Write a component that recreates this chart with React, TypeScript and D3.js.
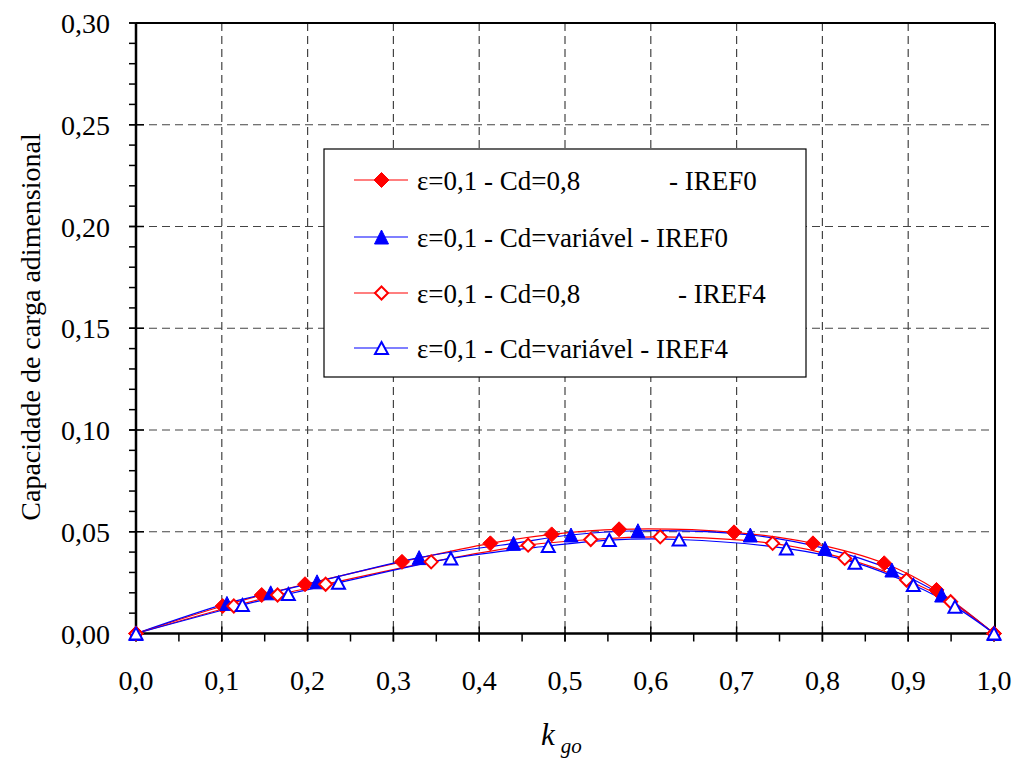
import React, { useEffect, useRef } from "react";
import * as d3 from "d3";

const xTicks = [0, 0.1, 0.2, 0.3, 0.4, 0.5, 0.6, 0.7, 0.8, 0.9, 1.0];
const yTicks = [0, 0.05, 0.1, 0.15, 0.2, 0.25, 0.3];

const kA = [0, 0.101, 0.1465, 0.197, 0.31, 0.413, 0.4845, 0.563, 0.697, 0.789, 0.872, 0.933, 1.0];
const vA = [0, 0.0135, 0.0189, 0.0242, 0.0352, 0.0443, 0.0487, 0.0512, 0.0497, 0.0443, 0.0345, 0.0214, 0];

const kB = [0, 0.106, 0.157, 0.211, 0.33, 0.44, 0.507, 0.585, 0.716, 0.803, 0.881, 0.939, 1.0];
const vB = [0, 0.0148, 0.02, 0.0254, 0.0373, 0.0443, 0.0484, 0.0505, 0.0484, 0.0418, 0.0312, 0.0189, 0];

const kC = [0, 0.114, 0.165, 0.221, 0.344, 0.457, 0.53, 0.611, 0.742, 0.826, 0.898, 0.9495, 1.0];
const vC = [0, 0.0135, 0.0189, 0.0242, 0.0352, 0.0434, 0.0462, 0.0475, 0.0443, 0.0369, 0.0263, 0.0156, 0];

const kD = [0, 0.124, 0.1775, 0.236, 0.367, 0.4805, 0.5516, 0.633, 0.758, 0.838, 0.906, 0.9545, 1.0];
const vD = [0, 0.014, 0.0194, 0.0249, 0.0369, 0.043, 0.0459, 0.0462, 0.0418, 0.0348, 0.0238, 0.0132, 0];

const seriesNames = [
  ["ε=0,1 - Cd=0,8", "- IREF0"],
  ["ε=0,1 - Cd=variável - IREF0", ""],
  ["ε=0,1 - Cd=0,8", "- IREF4"],
  ["ε=0,1 - Cd=variável - IREF4", ""],
];

const FONT = "serif";

type Mk = "diamond" | "triangle";
const series = [
  { k: kA, v: vA, color: "#ff0000", marker: "diamond" as Mk, filled: true },
  { k: kB, v: vB, color: "#0000ff", marker: "triangle" as Mk, filled: true },
  { k: kC, v: vC, color: "#ff0000", marker: "diamond" as Mk, filled: false },
  { k: kD, v: vD, color: "#0000ff", marker: "triangle" as Mk, filled: false },
];

function Marker({ x, y, type, color, filled }: { x: number; y: number; type: Mk; color: string; filled: boolean }) {
  if (type === "diamond") {
    const r = filled ? 7.5 : 6.5;
    const d = `M${x},${y - r}L${x + r},${y}L${x},${y + r}L${x - r},${y}Z`;
    return <path d={d} fill={filled ? color : "#fff"} stroke={color} strokeWidth={filled ? 1 : 2} />;
  }
  const h = filled ? 14 : 12;
  const w = filled ? 14 : 13;
  const d = `M${x},${y - h / 2}L${x + w / 2},${y + h / 2}L${x - w / 2},${y + h / 2}Z`;
  return <path d={d} fill={filled ? color : "#fff"} stroke={color} strokeWidth={filled ? 1 : 2} strokeLinejoin="miter" />;
}

export default function App() {
  const ref = useRef<SVGSVGElement>(null);
  useEffect(() => {
    if (!ref.current) return;
    d3.select(ref.current)
      .selectAll<SVGElement, unknown>("text, tspan")
      .each(function () {
        (this as SVGElement).style.setProperty("font-family", '"Liberation Serif", "Times New Roman", serif', "important");
      });
  }, []);

  const W = 1021, H = 758;
  const x0 = 136, x1 = 995, yTop = 23, yBot = 633.5;
  const x = d3.scaleLinear().domain([0, 1]).range([x0, x1 - 1]);
  const y = d3.scaleLinear().domain([0, 0.3]).range([yBot, yTop]);
  const line = d3.line<number>().curve(d3.curveCatmullRom.alpha(0.5));

  const xMinor = d3.range(0, 21).map((i) => i * 0.05);
  const yMinor = d3.range(0, 31).map((i) => i * 0.01);

  const lg = { x: 324, y: 149, w: 482, h: 228 };
  const rows = [180, 237, 293, 348];

  return (
    <svg ref={ref} width={W} height={H} fontFamily={FONT} style={{ display: "block", margin: "-8px 0 0 -8px" }}>
      <style>{`svg text, svg tspan { font-family: "Liberation Serif", "Times New Roman", serif !important; }`}</style>
      <rect x={0} y={0} width={W} height={H} fill="#fff" />
      {xTicks.slice(1, -1).map((t) => (
        <line key={"gx" + t} x1={x(t)} x2={x(t)} y1={yTop} y2={yBot} stroke="#444" strokeWidth={1.2} strokeDasharray="8,5" />
      ))}
      {yTicks.slice(1, -1).map((t) => (
        <line key={"gy" + t} x1={x0} x2={x1} y1={y(t)} y2={y(t)} stroke="#444" strokeWidth={1.2} strokeDasharray="8,5" />
      ))}
      <line x1={x0} x2={x1} y1={yTop} y2={yTop} stroke="#000" strokeWidth={2} />
      <line x1={x1} x2={x1} y1={yTop} y2={yBot} stroke="#000" strokeWidth={2} />
      {xMinor.map((t, i) => (
        <line key={"mx" + i} x1={x(t)} x2={x(t)} y1={yBot} y2={yBot + 8} stroke="#000" strokeWidth={1.5} />
      ))}
      {xTicks.map((t, i) => (
        <line key={"tx" + i} x1={x(t)} x2={x(t)} y1={yBot - 7} y2={yBot + 8} stroke="#000" strokeWidth={1.5} />
      ))}
      {yMinor.map((t, i) => (
        <line key={"my" + i} x1={x0 - 7} x2={x0} y1={y(t)} y2={y(t)} stroke="#000" strokeWidth={1.5} />
      ))}
      {yTicks.map((t, i) => (
        <line key={"ty" + i} x1={x0 - 7} x2={x0 + 8} y1={y(t)} y2={y(t)} stroke="#000" strokeWidth={1.5} />
      ))}
      <line x1={x0} x2={x0} y1={yTop} y2={yBot} stroke="#000" strokeWidth={2.5} />
      <line x1={x0} x2={x1} y1={yBot} y2={yBot} stroke="#000" strokeWidth={2.5} />
      {xTicks.map((t, i) => (
        <text key={"lx" + i} x={x(t)} y={690} textAnchor="middle" fontSize={28} fill="#000" fontFamily={FONT}>
          {t.toFixed(1).replace(".", ",")}
        </text>
      ))}
      {yTicks.map((t, i) => (
        <text key={"ly" + i} x={110} y={y(t) + 10} textAnchor="end" fontSize={28} fill="#000" fontFamily={FONT}>
          {t.toFixed(2).replace(".", ",")}
        </text>
      ))}
      <text x={0} y={0} transform={`translate(40,327) rotate(-90)`} textAnchor="middle" fontSize={28} fill="#000" fontFamily={FONT}>
        Capacidade de carga adimensional
      </text>
      <text x={541} y={745} fontSize={31} fontStyle="italic" fill="#000" fontFamily={FONT}>
        k
        <tspan dx={6} dy={8} fontSize={21}>go</tspan>
      </text>
      {series.map((s, si) => {
        const pts = s.k.map((k, i) => [x(k), y(s.v[i])] as [number, number]);
        return <path key={"s" + si} d={line(pts) || ""} fill="none" stroke={s.color} strokeWidth={1.2} />;
      })}
      {series.map((s, si) => (
        <g key={"m" + si}>
          {s.k.map((k, i) => (
            <Marker key={i} x={x(k)} y={y(s.v[i])} type={s.marker} color={s.color} filled={s.filled} />
          ))}
        </g>
      ))}
      <rect x={lg.x} y={lg.y} width={lg.w} height={lg.h} fill="#fff" stroke="#000" strokeWidth={1.2} />
      {series.map((s, i) => (
        <g key={"lg" + i}>
          <line x1={354} x2={408} y1={rows[i]} y2={rows[i]} stroke={s.color} strokeWidth={1.2} />
          <Marker x={381.5} y={rows[i]} type={s.marker} color={s.color} filled={s.filled} />
          <text x={417} y={rows[i] + 10} fontSize={27} fill="#000" fontFamily={FONT}>{seriesNames[i][0]}</text>
          {seriesNames[i][1] && (
            <text x={i === 0 ? 669 : 678} y={rows[i] + 10} fontSize={27} fill="#000" fontFamily={FONT}>{seriesNames[i][1]}</text>
          )}
        </g>
      ))}
    </svg>
  );
}
